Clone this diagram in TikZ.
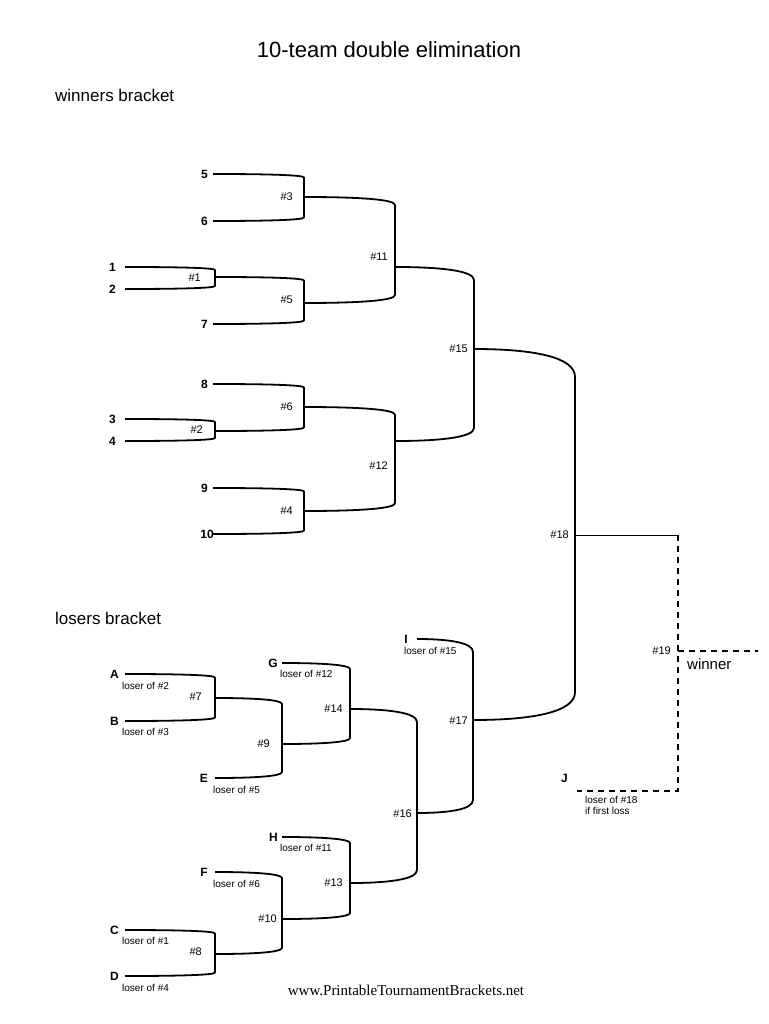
\documentclass[tikz,border=0pt]{standalone}
\usepackage{fontspec}
\setmainfont{Liberation Sans}
\newfontfamily\footfont{Liberation Serif}
\begin{document}
\begin{tikzpicture}[x=1pt,y=-1pt,
  br/.style={line width=1.8pt,line join=round},
  thinl/.style={line width=1pt},
  dashl/.style={line width=1.8pt,dash pattern=on 6pt off 5pt},
  team/.style={anchor=east,inner sep=0pt,font=\fontsize{12}{14}\selectfont\bfseries},
  match/.style={anchor=east,inner sep=0pt,font=\fontsize{11}{13}\selectfont},
  sub/.style={anchor=west,inner sep=0pt,font=\fontsize{10}{12}\selectfont},
  heading/.style={anchor=base west,inner sep=0pt,font=\fontsize{17}{20}\selectfont}]
\useasboundingbox (0,0) rectangle (768,1024);
\newcommand\mybrk[5]{%
  \pgfmathsetmacro\brkd{max(3,0.075*(#4-#2))}%
  \draw[br] (#1,#2) .. controls ({#1+0.6*(#5-#1)},#2) and (#5,{#2+0.3*\brkd}) .. (#5,{#2+\brkd})
    -- (#5,{#4-\brkd}) .. controls (#5,{#4-0.3*\brkd}) and ({#3+0.6*(#5-#3)},#4) .. (#3,#4);}
% headings
\node[anchor=base,inner sep=0pt,font=\fontsize{22}{26}\selectfont] (title) at (389,58) {10-team double elimination};
\node[heading] (wb) at (55,102) {winners bracket};
\node[heading] (lb) at (55,624) {losers bracket};
\node[anchor=base,inner sep=0pt,font=\footfont\fontsize{15}{18}\selectfont] (foot) at (406,995) {www.PrintableTournamentBrackets.net};
% winners bracket lines
\mybrk{213}{174}{213}{221}{304}
\mybrk{125}{267}{125}{289}{215}
\mybrk{215}{277}{213}{324}{304}
\mybrk{304}{197}{304}{303}{395}
\mybrk{213}{384}{215}{431}{304}
\mybrk{125}{419}{125}{441}{215}
\mybrk{213}{488}{213}{534}{304}
\mybrk{304}{407}{304}{511}{395}
\mybrk{395}{267}{395}{441}{474}
\mybrk{474}{349}{473}{720}{575}
% losers bracket lines
\mybrk{125}{674}{125}{721}{215}
\mybrk{215}{698}{215}{778}{282}
\mybrk{282}{663}{282}{744}{350}
\mybrk{125}{930}{125}{976}{215}
\mybrk{215}{872}{215}{954}{282}
\mybrk{282}{837}{282}{919}{350}
\mybrk{350}{709}{350}{883}{417}
\mybrk{417}{639}{417}{813}{473}
% final
\coordinate (m18) at (575,535);
\coordinate (c19t) at (678,535);
\coordinate (c19) at (678,651);
\coordinate (c19b) at (678,791);
\coordinate (jend) at (577,791);
\coordinate (wend) at (758,651);
\draw[thinl] (m18) -- (c19t);
\draw[dashl] (c19t) -- (c19b) -- (jend);
\draw[dashl] (c19) -- (wend);
\node[anchor=base west,inner sep=0pt,font=\fontsize{15}{18}\selectfont] (winner) at (687,669) {winner};
% team labels
\node[team] (t5) at (208,174) {5};
\node[team] (t6) at (208,221) {6};
\node[team] (t1) at (116,267) {1};
\node[team] (t2) at (116,289) {2};
\node[team] (t7) at (208,324) {7};
\node[team] (t8) at (208,384) {8};
\node[team] (t3) at (116,419) {3};
\node[team] (t4) at (116,441) {4};
\node[team] (t9) at (208,488) {9};
\node[team] (t10) at (214,534) {10};
\node[team] (tA) at (119,674) {A};
\node[team] (tB) at (119,721) {B};
\node[team] (tE) at (208,778) {E};
\node[team] (tG) at (278,663) {G};
\node[team] (tI) at (408,639) {I};
\node[team] (tH) at (278,837) {H};
\node[team] (tF) at (208,872) {F};
\node[team] (tC) at (119,930) {C};
\node[team] (tD) at (119,976) {D};
\node[team] (tJ) at (568,778) {J};
% sub labels
\node[sub] (sA) at (122,686) {loser of \#2};
\node[sub] (sB) at (122,732) {loser of \#3};
\node[sub] (sE) at (213,790) {loser of \#5};
\node[sub] (sG) at (280,674) {loser of \#12};
\node[sub] (sI) at (404,651) {loser of \#15};
\node[sub] (sH) at (280,848) {loser of \#11};
\node[sub] (sF) at (213,884) {loser of \#6};
\node[sub] (sC) at (122,941) {loser of \#1};
\node[sub] (sD) at (122,988) {loser of \#4};
\node[sub,align=left,font=\fontsize{10}{11.5}\selectfont,anchor=north west] (sJ) at (585,796) {loser of \#18\\if first loss};
% match labels
\node[match] (n3) at (293,197) {\#3};
\node[match] (n1) at (201,278) {\#1};
\node[match] (n5) at (293,300) {\#5};
\node[match] (n11) at (388,257) {\#11};
\node[match] (n6) at (293,407) {\#6};
\node[match] (n2) at (203,430) {\#2};
\node[match] (n12) at (388,466) {\#12};
\node[match] (n4) at (293,511) {\#4};
\node[match] (n15) at (468,349) {\#15};
\node[match] (n18) at (569,535) {\#18};
\node[match] (n19) at (671,651) {\#19};
\node[match] (n7) at (202,697) {\#7};
\node[match] (n9) at (270,744) {\#9};
\node[match] (n14) at (343,709) {\#14};
\node[match] (n17) at (468,721) {\#17};
\node[match] (n16) at (412,814) {\#16};
\node[match] (n13) at (343,883) {\#13};
\node[match] (n10) at (277,919) {\#10};
\node[match] (n8) at (202,952) {\#8};
\end{tikzpicture}
\end{document}
